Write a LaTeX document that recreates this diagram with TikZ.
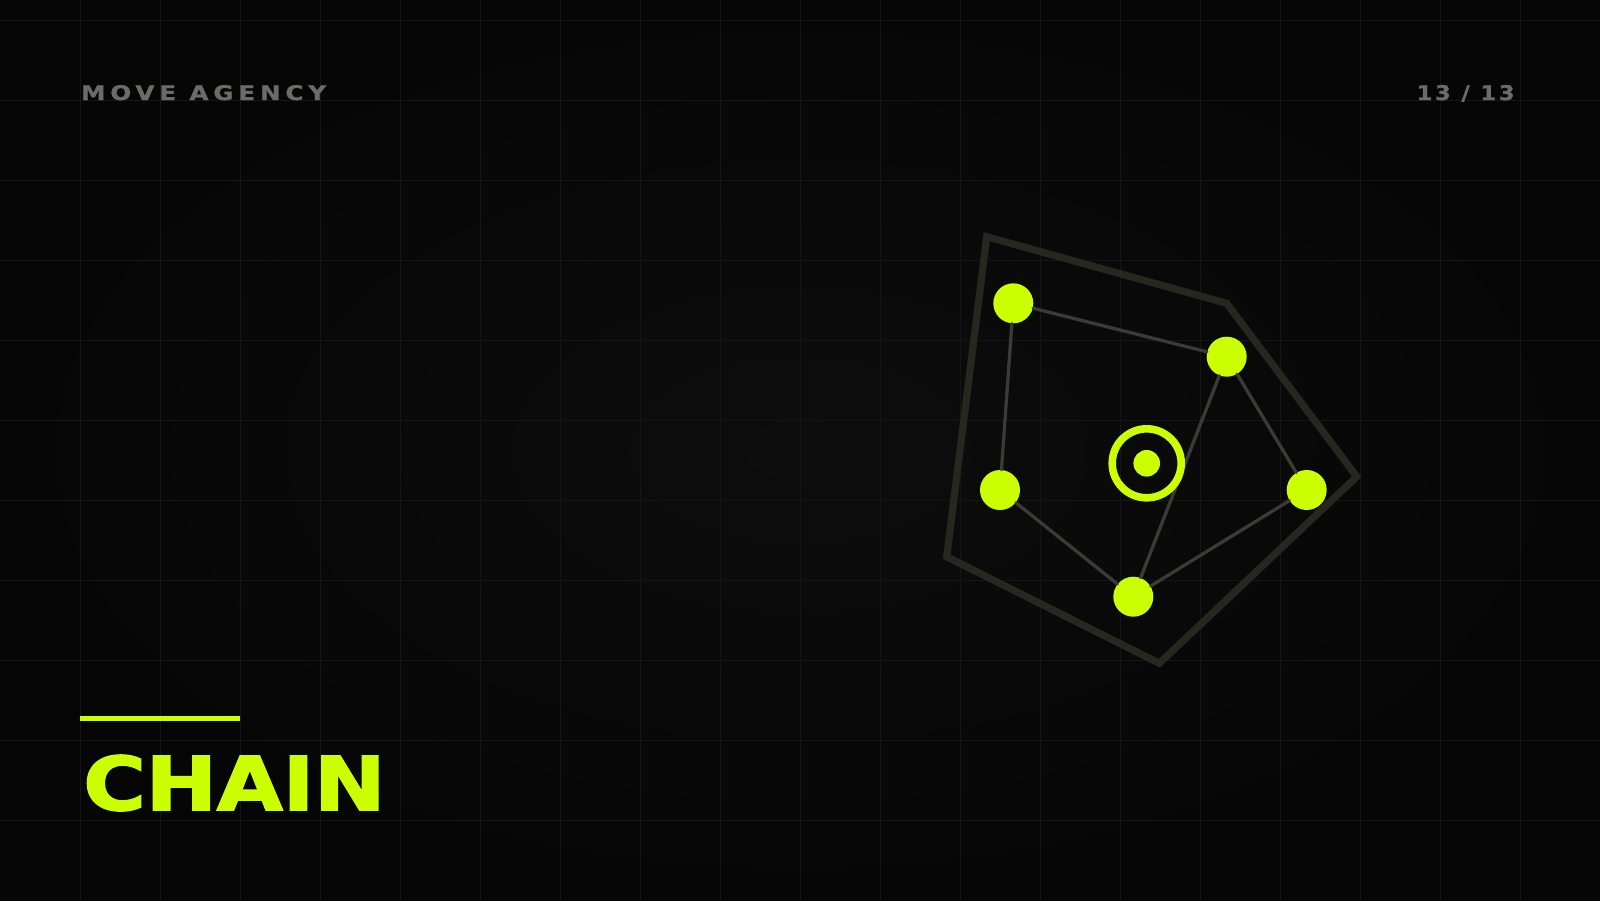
\documentclass[tikz,border=0pt]{standalone}
\usepackage{fontspec}
\setmainfont{DejaVu Sans}
\newfontfamily\titlefont{DejaVu Sans}[BoldFeatures={FakeBold=2.2}]
\newfontfamily\tagfont{DejaVu Sans}[BoldFeatures={FakeBold=1}]
\usepackage{graphicx}
\usepackage{tikz}
\usetikzlibrary{positioning}

\definecolor{lime}{HTML}{CCFF00}
\definecolor{bgmid}{HTML}{0D0D0D}
\definecolor{bgedge}{HTML}{060606}
\definecolor{gridcol}{HTML}{151515}
\definecolor{hullcol}{HTML}{26271F}
\definecolor{linkcol}{HTML}{3A3A37}
\definecolor{labelcol}{HTML}{6B6B67}

\tikzset{
  dot/.style={circle,fill=lime,inner sep=0,minimum size=20pt},
  hub/.style={circle,draw=lime,line width=3.8pt,inner sep=0,minimum size=34.5pt},
  hubdot/.style={circle,fill=lime,inner sep=0,minimum size=13.3pt},
  link/.style={linkcol,line width=1.65pt},
  hull/.style={hullcol,line width=3.6pt,line join=miter},
}

\begin{document}
\begin{tikzpicture}[x=0.5pt,y=-0.5pt,line cap=round]

  \useasboundingbox (0,0) rectangle (1600,900);
  \shade [inner color=bgmid,outer color=bgedge] (0,0) rectangle (1600,900);

  % grid
  \foreach \gx in {80,160,...,1520}
    \draw [gridcol,line width=0.5pt] (\gx,0) -- (\gx,900);
  \foreach \gy in {20,100,...,820}
    \draw [gridcol,line width=0.5pt] (0,\gy) -- (1600,\gy);

  % outer hull
  \coordinate (h1) at (986.7,236.7);
  \coordinate (h2) at (1226.7,303.3);
  \coordinate (h3) at (1356.7,476.7);
  \coordinate (h4) at (1159.3,663.3);
  \coordinate (h5) at (946.7,556.7);
  \draw [hull] (h1) -- (h2) -- (h3) -- (h4) -- (h5) -- cycle;

  % chain members
  \node [dot] (nTop)   at (1013.3,303.3) {};
  \node [dot] (nRight) at (1226.7,356.7) {};
  \node [dot] (nLeft)  at (1000,490) {};
  \node [dot] (nFar)   at (1306.7,490) {};
  \node [dot] (nLow)   at (1133.3,596.7) {};

  \draw [link] (nTop) -- (nRight);
  \draw [link] (nTop) -- (nLeft);
  \draw [link] (nLeft) -- (nLow);
  \draw [link] (nLow) -- (nFar);
  \draw [link] (nFar) -- (nRight);
  \draw [link] (nRight) -- (nLow);

  \node [hub] (core) at (1146.7,463.3) {};
  \node [hubdot] (coreDot) at (core.center) {};

  % labels
  \node [anchor=base west,inner sep=0,text=labelcol] (brand) at (80.7,100)
    {\resizebox{122.5pt}{7.5pt}{\tagfont\bfseries\addfontfeature{LetterSpace=20}MOVE AGENCY}};
  \node [anchor=base east,inner sep=0,text=labelcol] (page) at (1515,100)
    {\resizebox{49pt}{7.5pt}{\tagfont\bfseries\addfontfeature{LetterSpace=12}13 / 13}};

  \coordinate (barL) at (80,718.5);
  \coordinate (barR) at (240,718.5);
  \draw [lime,line width=2.5pt,line cap=butt] (barL) -- (barR);

  \node [anchor=base west,inner sep=0,text=lime] (title) at (83,810)
    {\resizebox{151pt}{27.5pt}{\titlefont\bfseries CHAIN}};

\end{tikzpicture}
\end{document}
